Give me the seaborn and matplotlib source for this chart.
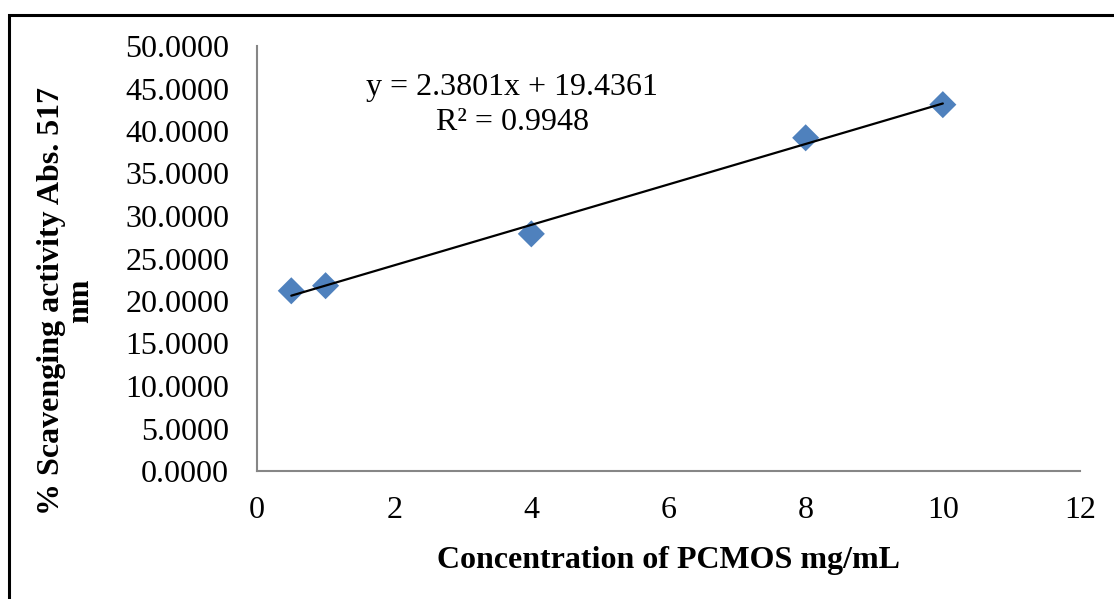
import numpy as np
import pandas as pd
import matplotlib
matplotlib.use("Agg")
import matplotlib.pyplot as plt
import seaborn as sns
from matplotlib.patches import Rectangle

# Data
concentration = [0.5, 1, 4, 8, 10]
scavenging = [21.2, 21.8, 27.9, 39.2, 43.1]
slope = 2.3801
intercept = 19.4361
r_squared = 0.9948
x_ticks = [0, 2, 4, 6, 8, 10, 12]
y_ticks = [0, 5, 10, 15, 20, 25, 30, 35, 40, 45, 50]

sns.set_theme(style="white")
plt.rcParams['font.family'] = ['Liberation Serif', 'DejaVu Serif']
plt.rcParams['text.color'] = 'black'
plt.rcParams['xtick.color'] = 'black'
plt.rcParams['ytick.color'] = 'black'
plt.rcParams['axes.labelcolor'] = 'black'

FS = 23

fig = plt.figure(figsize=(11.14, 5.99), dpi=100)
ax = fig.add_axes([257/1114, 1 - 471/599, (1080-257)/1114, (471-46)/599])

df = pd.DataFrame({"x": concentration, "y": scavenging})
sns.scatterplot(data=df, x="x", y="y", marker="D", s=190, color="#4F81BD",
                edgecolor="none", ax=ax, zorder=2)

trend_x = [min(concentration), max(concentration)]
trend_df = pd.DataFrame({"x": trend_x, "y": [slope * v + intercept for v in trend_x]})
sns.lineplot(data=trend_df, x="x", y="y", color="black", linewidth=1.6, ax=ax, zorder=3)

ax.set_xlim(0, 12)
ax.set_ylim(0, 50)
ax.set_xticks(x_ticks)
ax.set_yticks(y_ticks)
ax.set_xticklabels([str(t) for t in x_ticks], fontsize=FS)
ax.set_yticklabels([f"{t:.4f}" for t in y_ticks], fontsize=FS)
ax.tick_params(axis='y', length=0, pad=20)
ax.tick_params(axis='x', length=0, pad=18)

for side in ["top", "right"]:
    ax.spines[side].set_visible(False)
for side in ["left", "bottom"]:
    ax.spines[side].set_color("#868686")
    ax.spines[side].set_linewidth(1.5)

ax.set_xlabel("Concentration of PCMOS mg/mL", fontsize=FS, fontweight="bold", labelpad=15)
ax.set_ylabel("% Scavenging activity Abs. 517\nnm", fontsize=FS, fontweight="bold",
              linespacing=1.0)
ax.yaxis.set_label_coords(-0.197, 0.40)

ax.text(0.31, 0.861, f"y = {slope:.4f}x + {intercept:.4f}\nR² = {r_squared:.4f}",
        transform=ax.transAxes, ha="center", va="center", fontsize=FS,
        linespacing=1.25)

fig.patches.append(Rectangle((9/1114, -0.1), 1.2, 1 - 15/599 + 0.1,
                             transform=fig.transFigure, fill=False,
                             edgecolor="black", linewidth=2.2))

fig.savefig("out.png", dpi=100)
